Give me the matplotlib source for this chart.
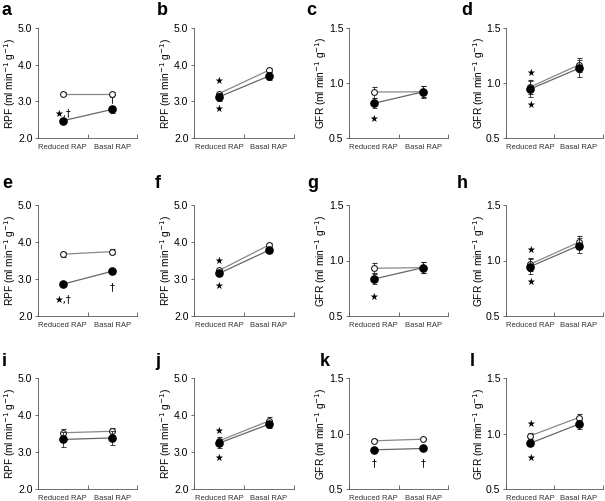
import matplotlib
matplotlib.use("Agg")
import matplotlib.pyplot as plt

plt.rcParams['font.family'] = ['Liberation Sans', 'DejaVu Sans']

categories = ["Reduced RAP", "Basal RAP"]
panel_letters = list("abcdefghijkl")
ylabels = ["RPF", "RPF", "GFR", "GFR"] * 3
ylims = [(2.0, 5.0), (2.0, 5.0), (0.5, 1.5), (0.5, 1.5)] * 3
yticks_rpf = [2.0, 3.0, 4.0, 5.0]
yticks_gfr = [0.5, 1.0, 1.5]

open_means = [
    [3.21, 3.21], [3.21, 3.85], [0.918, 0.92], [0.964, 1.164],
    [3.67, 3.74], [3.23, 3.92], [0.93, 0.936], [0.967, 1.164],
    [3.52, 3.56], [3.30, 3.84], [0.934, 0.949], [0.979, 1.144],
]
open_err = [
    [0.05, 0.05], [0.05, 0.06], [0.05, 0.05], [0.06, 0.06],
    [0.07, 0.07], [0.05, 0.06], [0.045, 0.05], [0.06, 0.06],
    [0.10, 0.10], [0.10, 0.10], [0.012, 0.012], [0.025, 0.03],
]
closed_means = [
    [2.47, 2.78], [3.12, 3.69], [0.815, 0.92], [0.945, 1.133],
    [2.86, 3.21], [3.15, 3.78], [0.833, 0.936], [0.945, 1.134],
    [3.34, 3.38], [3.24, 3.75], [0.853, 0.865], [0.913, 1.084],
]
closed_err = [
    [0.07, 0.10], [0.10, 0.10], [0.045, 0.055], [0.07, 0.075],
    [0.06, 0.07], [0.06, 0.07], [0.045, 0.05], [0.07, 0.07],
    [0.20, 0.18], [0.12, 0.10], [0.012, 0.015], [0.03, 0.04],
]
# annotations: (panel index, category index, y value, text)
annotations = [
    (0, 0, 2.65, "★,†"), (0, 1, 3.05, "†"),
    (1, 0, 3.55, "★"), (1, 0, 2.78, "★"),
    (2, 0, 0.676, "★"),
    (3, 0, 1.09, "★"), (3, 0, 0.80, "★"),
    (4, 0, 2.44, "★,†"), (4, 1, 2.78, "†"),
    (5, 0, 3.50, "★"), (5, 0, 2.80, "★"),
    (6, 0, 0.67, "★"),
    (7, 0, 1.097, "★"), (7, 0, 0.805, "★"),
    (9, 0, 3.58, "★"), (9, 0, 2.83, "★"),
    (10, 0, 0.733, "†"), (10, 1, 0.733, "†"),
    (11, 0, 1.09, "★"), (11, 0, 0.778, "★"),
]

W, H = 605, 501
fig = plt.figure(figsize=(W / 100, H / 100), dpi=100)

col_left = [38, 194, 349, 506]
col_width = [99, 100, 99, 97]
row_top = [28, 205, 378]
row_bottom = [138, 316, 489]
letter_pos = [(2, 15), (157, 15), (306, 15), (461, 15),
              (2, 188), (155, 188), (307, 188), (457, 188),
              (2, 366), (155, 366), (320, 366), (470, 366)]

xpos = [1, 3]
axes = []
for i in range(12):
    r, c = divmod(i, 4)
    ax = fig.add_axes([col_left[c] / W, 1 - row_bottom[r] / H,
                       col_width[c] / W, (row_bottom[r] - row_top[r]) / H])
    axes.append(ax)
    ax.set_xlim(0, 4)
    ax.set_ylim(*ylims[i])
    ax.set_yticks(yticks_rpf if ylabels[i] == "RPF" else yticks_gfr)
    ax.yaxis.set_major_formatter(matplotlib.ticker.FormatStrFormatter('%.1f'))
    ax.set_xticks([0, 2, 4])
    ax.set_xticklabels([])
    ax.set_xticks(xpos, minor=True)
    ax.set_xticklabels(categories, minor=True, fontsize=5.5, color='#333333')
    ax.tick_params(axis='x', which='major', direction='in', length=3, width=0.6, color='#555555')
    ax.tick_params(axis='x', which='minor', length=0, pad=4)
    ax.tick_params(axis='y', direction='out', length=2.5, width=0.6, color='#555555',
                   labelsize=7.5, pad=1.5)
    for s in ['top', 'right']:
        ax.spines[s].set_visible(False)
    for s in ['left', 'bottom']:
        ax.spines[s].set_linewidth(0.6)
        ax.spines[s].set_color('#555555')
    ax.set_ylabel(ylabels[i] + r" (ml min$^{-1}$ g$^{-1}$)", fontsize=7.3)
    ax.yaxis.set_label_coords(-0.2, 0.5)

    ax.errorbar(xpos, open_means[i], yerr=open_err[i], fmt='o', ms=4.2,
                mfc='white', mec='#222222', mew=0.8, color='#888888', lw=0.9,
                ecolor='#333333', elinewidth=0.6, capsize=1.8, capthick=0.6,
                ls='-', zorder=3)
    ax.errorbar(xpos, closed_means[i], yerr=closed_err[i], fmt='o', ms=5.2,
                mfc='black', mec='black', color='#666666', lw=0.9,
                ecolor='#222222', elinewidth=0.6, capsize=1.8, capthick=0.6,
                ls='-', zorder=4)

    lx, ly = letter_pos[i]
    fig.text(lx / W, 1 - ly / H, panel_letters[i], fontsize=13, fontweight='bold',
             ha='left', va='baseline')

for (p, ci, y, txt) in annotations:
    axes[p].text(xpos[ci], y, txt, ha='center', va='center', fontsize=7,
                 family=['DejaVu Sans'])

fig.savefig("out.png", dpi=100)
